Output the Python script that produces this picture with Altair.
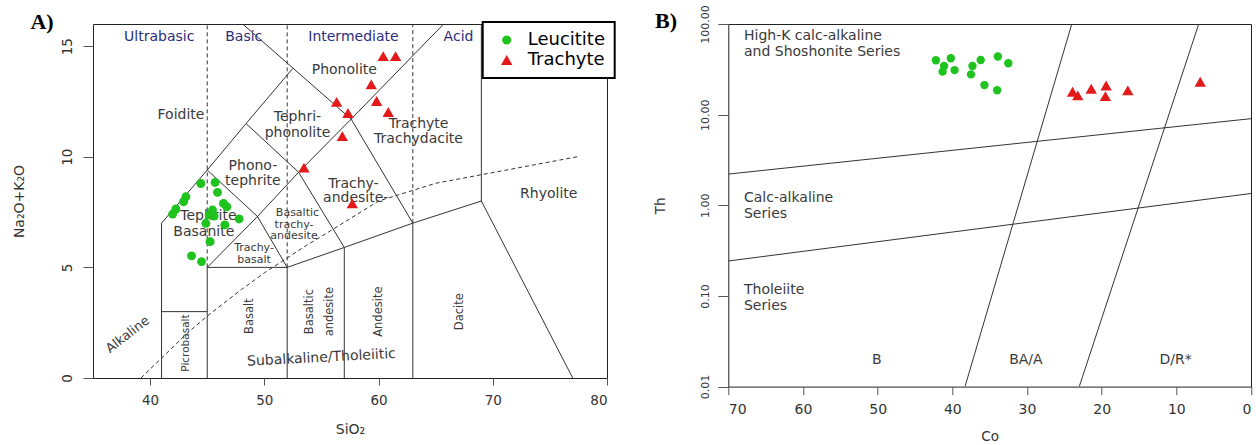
import altair as alt
import pandas as pd

GREEN = "#1ec31e"
RED = "#e31a1a"
LINE = "#333333"
TXT = "#3a3a3a"
BLUE = "#2b2d7c"
FONT = "DejaVu Sans"
groups = ["Leucitite", "Trachyte"]

# ---------------- Panel A (TAS) data ----------------
leu_sio2 = [44.44, 45.69, 45.90, 43.13, 42.93, 42.26, 41.97, 46.42, 46.71, 45.46,
            45.60, 45.17, 44.88, 46.54, 47.79, 45.25, 43.63, 44.50]
leu_alk = [8.79, 8.84, 8.39, 8.19, 7.97, 7.64, 7.41, 7.89, 7.74, 7.59,
           7.32, 7.37, 6.99, 6.92, 7.19, 6.16, 5.52, 5.26]
tra_sio2 = [60.41, 61.49, 59.36, 56.33, 59.83, 57.32, 60.85, 56.83, 53.47, 57.70]
tra_alk = [14.55, 14.55, 13.27, 12.48, 12.52, 11.98, 12.02, 10.93, 9.51, 7.89]

# TAS field boundaries (solid)
tas_x1 = [41, 41, 45, 48.4, 57.6, 48.4, 53, 45, 49.4, 49.4, 49.4, 53, 57.6, 57.6, 63, 69, 69, 57, 52, 45, 41, 45, 52, 57, 63]
tas_y1 = [0, 7, 9.4, 11.5, 11.7, 11.5, 9.3, 9.4, 7.3, 7.3, 7.3, 9.3, 11.7, 11.7, 7, 8, 8, 5.9, 5, 5, 3, 0, 0, 0, 0]
tas_x2 = [41, 45, 48.4, 52.5, 48.1, 53, 57, 49.4, 52, 45, 53, 57.6, 63, 65.7, 69, 69, 77, 63, 57, 52, 45, 45, 52, 57, 63]
tas_y2 = [7, 9.4, 11.5, 14, 16, 9.3, 5.9, 7.3, 5, 5, 9.3, 11.7, 7, 16, 8, 16, 0, 7, 5.9, 5, 3, 5, 5, 5.9, 7]
# dashed silica class dividers
div_x = [45, 52, 63]
div_y1 = [5, 5, 7]
div_y2 = [16, 16, 16]
# alkaline / subalkaline divide (dashed)
ib_x = [39.2, 40, 43.2, 45, 48, 50, 53.7, 55, 60, 65, 77.4]
ib_y = [0, 0.4, 2, 2.8, 4, 4.75, 6, 6.4, 8, 8.8, 10]

cls_text = ["Ultrabasic", "Basic", "Intermediate", "Acid"]
cls_x = [40.8, 48.2, 57.8, 67.0]
cls_y = [15.4, 15.4, 15.4, 15.4]

reg_text = ["Foidite", "Phonolite", "Tephri-", "phonolite", "Phono-", "tephrite", "Trachyte",
            "Trachydacite", "Trachy-", "andesite-", "Rhyolite", "Tephrite", "Basanite"]
reg_x = [42.7, 57.0, 52.9, 52.9, 49.0, 49.0, 63.5, 63.5, 57.8, 58.0, 74.9, 45.1, 44.7]
reg_y = [11.9, 13.9, 11.8, 11.08, 9.59, 8.9, 11.47, 10.82, 8.79, 8.12, 8.3, 7.32, 6.61]

sm_text = ["Basaltic", "trachy-", "andesite", "Trachy-", "basalt"]
sm_x = [52.9, 52.6, 52.6, 49.1, 49.1]
sm_y = [7.47, 6.93, 6.41, 5.87, 5.35]

vt_text = ["Basalt", "Basaltic", "andesite", "Andesite", "Dacite"]
vt_x = [48.75, 54.0, 55.74, 60.03, 67.1]
vt_y = [2.8, 3.0, 3.0, 3.0, 3.0]

pic_text = ["Picrobasalt"]
pic_x = [43.13]
pic_y = [1.58]
alk_text = ["Alkaline"]
alk_x = [38.03]
alk_y = [1.96]
sub_text = ["Subalkaline/Tholeiitic"]
sub_x = [55.0]
sub_y = [0.91]

# ---------------- Panel B (Co-Th) data ----------------
leu_co = [42.2, 40.2, 41.1, 41.3, 39.7, 37.3, 37.5, 36.2, 33.9, 32.5, 35.7, 34.0]
leu_th = [39.8, 41.9, 34.4, 29.8, 31.0, 34.4, 27.8, 40.1, 43.8, 36.9, 21.2, 18.6]
tra_co = [23.9, 23.2, 21.4, 19.4, 19.5, 16.5, 6.8]
tra_th = [17.9, 16.3, 19.3, 21.0, 16.0, 18.5, 23.1]

cot_x1 = [70, 70, 38.3, 23.0]
cot_y1 = [2.21, 0.243, 0.01, 0.01]
cot_x2 = [0, 0, 24.0, 7.0]
cot_y2 = [9.03, 1.35, 100, 100]

ser_text = ["High-K calc-alkaline", "and Shoshonite Series", "Calc-alkaline", "Series", "Tholeiite", "Series"]
ser_co = [67.9, 67.9, 67.9, 67.9, 67.9, 67.9]
ser_th = [73.6, 48.8, 1.196, 0.794, 0.1166, 0.0774]

rock_text = ["B", "BA/A", "D/R*"]
rock_co = [50.1, 30.15, 10.1]
rock_th = [0.0195, 0.0195, 0.0195]

# ---------------- tables ----------------
ptsA = pd.DataFrame({"x": leu_sio2 + tra_sio2, "y": leu_alk + tra_alk,
                     "group": [groups[0]] * len(leu_sio2) + [groups[1]] * len(tra_sio2)})
segA = pd.DataFrame({"x": tas_x1, "y": tas_y1, "x2": tas_x2, "y2": tas_y2})
divA = pd.DataFrame({"x": div_x, "y": div_y1, "x2": div_x, "y2": div_y2})
ibA = pd.DataFrame({"x": ib_x, "y": ib_y})

ptsB = pd.DataFrame({"x": leu_co + tra_co, "y": leu_th + tra_th,
                     "group": [groups[0]] * len(leu_co) + [groups[1]] * len(tra_co)})
segB = pd.DataFrame({"x": cot_x1, "y": cot_y1, "x2": cot_x2, "y2": cot_y2})


def tdf(t, x, y):
    return pd.DataFrame({"t": t, "x": x, "y": y})


# ---------------- scales / axes ----------------
scAx = alt.Scale(domain=[35, 80], nice=False, zero=False)
scAy = alt.Scale(domain=[0, 16], nice=False, zero=False)
axAx = alt.Axis(values=[40, 50, 60, 70, 80], tickSize=7, labelFontSize=13.5, labelPadding=8,
                title="SiO₂", titleFontSize=14, titleFontWeight="normal", titleY=51.6,
                titleBaseline="middle")
axAy = alt.Axis(values=[0, 5, 10, 15], tickSize=10, labelAngle=270, labelAlign="center",
                labelBaseline="bottom", labelPadding=9, labelFontSize=13.5,
                title="Na₂O+K₂O", titleFontSize=14, titleFontWeight="normal", titleX=-73.5,
                titleBaseline="middle")

scBx = alt.Scale(domain=[0, 70], reverse=True, nice=False, zero=False)
scBy = alt.Scale(type="log", domain=[0.01, 100], nice=False)
axBx = alt.Axis(values=[0, 10, 20, 30, 40, 50, 60, 70], tickSize=8, labelFontSize=14, labelPadding=8,
                title="Co", titleFontSize=13.5, titleFontWeight="normal", titleY=50,
                titleBaseline="middle")
axBy = alt.Axis(values=[0.01, 0.1, 1, 10, 100], format=".2f", tickSize=10.5, labelAngle=270,
                labelAlign="center", labelBaseline="bottom", labelPadding=7, labelFontSize=11,
                title="Th", titleFontSize=13.5, titleFontWeight="normal", titleX=-68,
                titleBaseline="middle")


def XA():
    return alt.X("x:Q", scale=scAx, axis=axAx)


def YA():
    return alt.Y("y:Q", scale=scAy, axis=axAy)


def XB():
    return alt.X("x:Q", scale=scBx, axis=axBx)


def YB():
    return alt.Y("y:Q", scale=scBy, axis=axBy)


colsc = alt.Scale(domain=groups, range=[GREEN, RED])
shpsc = alt.Scale(domain=groups, range=["circle", "triangle-up"])

legA = alt.Legend(title=None, orient="none", legendX=389.7, legendY=-2, strokeColor="black",
                  fillColor="white", padding=9, symbolOffset=6, labelOffset=12, rowPadding=2,
                  labelFontSize=18, labelFont=FONT, labelColor="black", symbolSize=60,
                  symbolStrokeWidth=0)

dummy = alt.Data(values=[{"a": 1}])

# ---------------- Panel A ----------------
a_seg = alt.Chart(segA).mark_rule(color=LINE, strokeWidth=1, clip=True).encode(
    x=XA(), y=YA(), x2="x2:Q", y2="y2:Q")
a_div = alt.Chart(divA).mark_rule(color=LINE, strokeWidth=1, strokeDash=[4, 3], clip=True).encode(
    x=XA(), y=YA(), x2="x2:Q", y2="y2:Q")
a_ib = alt.Chart(ibA).mark_line(color=LINE, strokeWidth=1, strokeDash=[4, 3], clip=True).encode(
    x=XA(), y=YA())


def a_text(df, size, color=TXT, angle=0):
    return alt.Chart(df).mark_text(font=FONT, fontSize=size, color=color, angle=angle,
                                   align="center", baseline="middle").encode(x=XA(), y=YA(), text="t:N")


a_cls = a_text(tdf(cls_text, cls_x, cls_y), 14, BLUE)
a_reg = a_text(tdf(reg_text, reg_x, reg_y), 14)
a_sm = a_text(tdf(sm_text, sm_x, sm_y), 11)
a_vt = a_text(tdf(vt_text, vt_x, vt_y), 11.5, angle=270)
a_pic = a_text(tdf(pic_text, pic_x, pic_y), 10.5, angle=270)
a_alk = a_text(tdf(alk_text, alk_x, alk_y), 13, angle=322)
a_sub = a_text(tdf(sub_text, sub_x, sub_y), 14, angle=357)

a_pts = alt.Chart(ptsA).mark_point(filled=True, opacity=1).encode(
    x=XA(), y=YA(),
    color=alt.Color("group:N", scale=colsc, legend=legA),
    shape=alt.Shape("group:N", scale=shpsc, legend=legA),
    size=alt.Size("group:N", scale=alt.Scale(domain=groups, range=[80, 130]), legend=None))

a_lab = alt.Chart(dummy).mark_text(text="A)", font="Liberation Serif", fontWeight="bold",
                                   fontSize=22, color="black", align="center",
                                   baseline="middle").encode(x=alt.value(-51), y=alt.value(-1.7))
a_anchor = alt.Chart(dummy).mark_rule(strokeOpacity=0, strokeWidth=0.01).encode(
    x=alt.value(-92), x2=alt.value(-91), y=alt.value(-22.7), y2=alt.value(-21.7))

A = alt.layer(a_anchor, a_seg, a_div, a_ib, a_cls, a_reg, a_sm, a_vt, a_pic, a_alk, a_sub,
              a_pts, a_lab).properties(width=514, height=354)

# ---------------- Panel B ----------------
b_seg = alt.Chart(segB).mark_rule(color=LINE, strokeWidth=1, clip=True).encode(
    x=XB(), y=YB(), x2="x2:Q", y2="y2:Q")
b_ser = alt.Chart(tdf(ser_text, ser_co, ser_th)).mark_text(
    font=FONT, fontSize=14, color=TXT, align="left", baseline="middle").encode(
    x=XB(), y=YB(), text="t:N")
b_rock = alt.Chart(tdf(rock_text, rock_co, rock_th)).mark_text(
    font=FONT, fontSize=14, color=TXT, align="center", baseline="middle").encode(
    x=XB(), y=YB(), text="t:N")
b_pts = alt.Chart(ptsB).mark_point(filled=True, opacity=1).encode(
    x=XB(), y=YB(),
    color=alt.Color("group:N", scale=colsc, legend=None),
    shape=alt.Shape("group:N", scale=shpsc, legend=None),
    size=alt.Size("group:N", scale=alt.Scale(domain=groups, range=[70, 130]), legend=None))
b_lab = alt.Chart(dummy).mark_text(text="B)", font="Liberation Serif", fontWeight="bold",
                                   fontSize=22, color="black", align="center",
                                   baseline="middle").encode(x=alt.value(-62.3), y=alt.value(-2.7))

B = alt.layer(b_seg, b_ser, b_rock, b_pts, b_lab).properties(width=522.7, height=362.6)

chart = alt.hconcat(A, B, spacing=121.3, bounds="flush").resolve_scale(
    color="independent", shape="independent", size="independent"
).properties(padding=0).configure(font=FONT).configure_view(
    stroke="#222222", strokeWidth=1
).configure_axis(
    domain=False, grid=False, labelFont=FONT, titleFont=FONT, labelColor="#333333",
    titleColor="#333333", tickColor="#555555", tickWidth=1
).configure_legend(strokeWidth=2)

chart.save("out.html", embed_options={"renderer": "svg", "actions": False})
